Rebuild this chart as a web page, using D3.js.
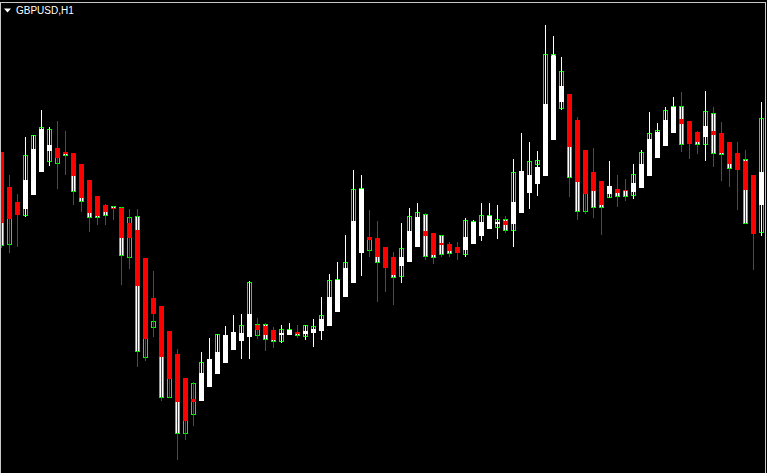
<!DOCTYPE html>
<html>
<head>
<meta charset="utf-8">
<script src="https://cdn.jsdelivr.net/npm/d3@7"></script>
<style>
  html, body { margin: 0; padding: 0; background: #000; }
  svg { display: block; }
</style>
</head>
<body>
<div id="chart"></div>
<script>
"use strict";

// GBPUSD H1 candles (regular OHLC)
var open = [1.3300, 1.3256, 1.3287, 1.3285, 1.3315, 1.3340, 1.3339, 1.3337, 1.3348, 1.3340,
    1.3330, 1.3310, 1.3295, 1.3293, 1.3294, 1.3293, 1.3243, 1.3284, 1.3143, 1.3173,
    1.3180, 1.3103, 1.3130, 1.3067, 1.3086, 1.3105, 1.3120, 1.3135, 1.3145, 1.3155,
    1.3160, 1.3170, 1.3165, 1.3176, 1.3168, 1.3159, 1.3166, 1.3167, 1.3164, 1.3168,
    1.3172, 1.3180, 1.3200, 1.3210, 1.3230, 1.3260, 1.3250, 1.3260, 1.3250, 1.3238,
    1.3224, 1.3250, 1.3260, 1.3286, 1.3260, 1.3265, 1.3254, 1.3252, 1.3246, 1.3260,
    1.3270, 1.3275, 1.3273, 1.3281, 1.3270, 1.3295, 1.3310, 1.3336, 1.3340, 1.3446,
    1.3392, 1.3400, 1.3370, 1.3289, 1.3325, 1.3315, 1.3303, 1.3310, 1.3310, 1.3305,
    1.3320, 1.3335, 1.3350, 1.3360, 1.3375, 1.3394, 1.3375, 1.3366, 1.3356, 1.3387,
    1.3365, 1.3355, 1.3345, 1.3341, 1.3320, 1.3268];

var high = [1.3348, 1.3325, 1.3306, 1.3363, 1.3365, 1.3390, 1.3373, 1.3379, 1.3369, 1.3347,
    1.3336, 1.3320, 1.3304, 1.3296, 1.3294, 1.3293, 1.3291, 1.3291, 1.3242, 1.3229,
    1.3194, 1.3169, 1.3151, 1.3122, 1.3118, 1.3148, 1.3162, 1.3166, 1.3174, 1.3185,
    1.3186, 1.3219, 1.3182, 1.3177, 1.3173, 1.3175, 1.3177, 1.3175, 1.3175, 1.3181,
    1.3203, 1.3226, 1.3238, 1.3265, 1.3330, 1.3325, 1.3290, 1.3279, 1.3253, 1.3248,
    1.3277, 1.3292, 1.3297, 1.3287, 1.3267, 1.3265, 1.3258, 1.3258, 1.3282, 1.3280,
    1.3297, 1.3297, 1.3295, 1.3284, 1.3341, 1.3367, 1.3358, 1.3349, 1.3475, 1.3464,
    1.3443, 1.3406, 1.3383, 1.3350, 1.3352, 1.3319, 1.3339, 1.3325, 1.3321, 1.3336,
    1.3350, 1.3388, 1.3377, 1.3393, 1.3403, 1.3408, 1.3379, 1.3369, 1.3409, 1.3393,
    1.3378, 1.3358, 1.3358, 1.3350, 1.3325, 1.3398];

var low = [1.3252, 1.3247, 1.3253, 1.3283, 1.3305, 1.3328, 1.3334, 1.3311, 1.3325, 1.3295,
    1.3288, 1.3268, 1.3275, 1.3275, 1.3280, 1.3215, 1.3231, 1.3133, 1.3139, 1.3163,
    1.3099, 1.3102, 1.3040, 1.3060, 1.3074, 1.3099, 1.3113, 1.3126, 1.3137, 1.3150,
    1.3141, 1.3141, 1.3161, 1.3149, 1.3152, 1.3157, 1.3165, 1.3162, 1.3160, 1.3153,
    1.3160, 1.3174, 1.3188, 1.3203, 1.3217, 1.3224, 1.3243, 1.3198, 1.3208, 1.3195,
    1.3217, 1.3238, 1.3253, 1.3240, 1.3236, 1.3243, 1.3243, 1.3240, 1.3243, 1.3256,
    1.3259, 1.3271, 1.3261, 1.3267, 1.3253, 1.3287, 1.3291, 1.3304, 1.3324, 1.3360,
    1.3390, 1.3303, 1.3280, 1.3286, 1.3282, 1.3265, 1.3302, 1.3293, 1.3299, 1.3301,
    1.3312, 1.3324, 1.3342, 1.3354, 1.3367, 1.3348, 1.3341, 1.3346, 1.3339, 1.3333,
    1.3319, 1.3313, 1.3290, 1.3276, 1.3230, 1.3264];

var close = [1.3255, 1.3295, 1.3296, 1.3345, 1.3365, 1.3373, 1.3371, 1.3350, 1.3345, 1.3309,
    1.3299, 1.3283, 1.3283, 1.3285, 1.3292, 1.3245, 1.3283, 1.3149, 1.3200, 1.3179,
    1.3103, 1.3140, 1.3067, 1.3100, 1.3117, 1.3138, 1.3135, 1.3166, 1.3164, 1.3166,
    1.3175, 1.3218, 1.3176, 1.3161, 1.3159, 1.3171, 1.3171, 1.3165, 1.3175, 1.3174,
    1.3185, 1.3220, 1.3221, 1.3238, 1.3311, 1.3312, 1.3262, 1.3238, 1.3238, 1.3223,
    1.3252, 1.3284, 1.3288, 1.3244, 1.3243, 1.3246, 1.3247, 1.3248, 1.3280, 1.3279,
    1.3285, 1.3285, 1.3281, 1.3270, 1.3328, 1.3325, 1.3339, 1.3340, 1.3446, 1.3410,
    1.3429, 1.3323, 1.3289, 1.3320, 1.3293, 1.3293, 1.3314, 1.3304, 1.3304, 1.3326,
    1.3348, 1.3367, 1.3370, 1.3390, 1.3394, 1.3356, 1.3360, 1.3356, 1.3389, 1.3347,
    1.3346, 1.3332, 1.3332, 1.3277, 1.3270, 1.3382];

// Heiken Ashi indicator values (open / close of each HA bar)
var haOpen = [1.3348, 1.3313, 1.3298, 1.3291, 1.3305, 1.3328, 1.3349, 1.3352, 1.3348, 1.3347,
    1.3336, 1.3320, 1.3304, 1.3295, 1.3292, 1.3292, 1.3277, 1.3270, 1.3242, 1.3202,
    1.3194, 1.3169, 1.3146, 1.3122, 1.3101, 1.3099, 1.3113, 1.3126, 1.3137, 1.3150,
    1.3159, 1.3163, 1.3175, 1.3174, 1.3170, 1.3165, 1.3165, 1.3168, 1.3166, 1.3167,
    1.3169, 1.3174, 1.3188, 1.3203, 1.3217, 1.3247, 1.3263, 1.3262, 1.3253, 1.3243,
    1.3234, 1.3238, 1.3253, 1.3269, 1.3267, 1.3257, 1.3256, 1.3253, 1.3250, 1.3256,
    1.3264, 1.3271, 1.3276, 1.3279, 1.3276, 1.3287, 1.3307, 1.3316, 1.3324, 1.3360,
    1.3398, 1.3406, 1.3380, 1.3350, 1.3328, 1.3319, 1.3306, 1.3311, 1.3310, 1.3308,
    1.3312, 1.3324, 1.3342, 1.3354, 1.3367, 1.3381, 1.3379, 1.3368, 1.3363, 1.3369,
    1.3367, 1.3358, 1.3347, 1.3339, 1.3325, 1.3295];

var haClose = [1.3277, 1.3281, 1.3285, 1.3320, 1.3351, 1.3371, 1.3355, 1.3342, 1.3346, 1.3324,
    1.3302, 1.3287, 1.3284, 1.3288, 1.3291, 1.3262, 1.3262, 1.3214, 1.3161, 1.3186,
    1.3143, 1.3121, 1.3098, 1.3079, 1.3098, 1.3127, 1.3141, 1.3148, 1.3165, 1.3168,
    1.3167, 1.3186, 1.3170, 1.3165, 1.3160, 1.3167, 1.3170, 1.3166, 1.3169, 1.3171,
    1.3181, 1.3203, 1.3220, 1.3232, 1.3279, 1.3311, 1.3260, 1.3243, 1.3232, 1.3225,
    1.3243, 1.3269, 1.3283, 1.3264, 1.3245, 1.3255, 1.3249, 1.3247, 1.3263, 1.3278,
    1.3278, 1.3284, 1.3278, 1.3275, 1.3298, 1.3329, 1.3325, 1.3333, 1.3396, 1.3444,
    1.3414, 1.3353, 1.3318, 1.3306, 1.3309, 1.3295, 1.3314, 1.3307, 1.3309, 1.3317,
    1.3336, 1.3361, 1.3368, 1.3380, 1.3393, 1.3376, 1.3356, 1.3358, 1.3374, 1.3365,
    1.3347, 1.3336, 1.3330, 1.3310, 1.3266, 1.3328];

var symbol = "GBPUSD,H1";

var w = 767;
var h = 473;

var bars = open.map(function (o, i) {
    return {
        i: i, o: o, h: high[i], l: low[i], c: close[i],
        ho: haOpen[i], hc: haClose[i]
    };
});

var svg = d3.select("#chart")
    .append("svg")
    .attr("width", w)
    .attr("height", h)
    .style("background", "#000");

// bar index -> centre x, 8px per bar
var x = d3.scaleLinear()
    .domain([0, bars.length - 1])
    .range([1.5, 1.5 + 8 * (bars.length - 1)]);

var y = d3.scaleLinear()
    .domain([1.3027, 1.3500])
    .range([h, 0]);

// snap prices to whole pixel rows
function py(v) {
    return Math.round(y(v));
}

var bodyW = 5;

// regular candles: lime outline, black bull / white bear
var candles = svg.append("g");

candles.selectAll("line")
    .data(bars)
    .enter()
    .append("line")
    .attr("x1", function (d) { return x(d.i); })
    .attr("x2", function (d) { return x(d.i); })
    .attr("y1", function (d) { return py(d.h); })
    .attr("y2", function (d) { return py(d.l); })
    .attr("stroke", "#00ff00")
    .attr("stroke-width", 1);

candles.selectAll("rect")
    .data(bars)
    .enter()
    .append("rect")
    .attr("x", function (d) { return x(d.i) - 2; })
    .attr("y", function (d) { return py(Math.max(d.o, d.c)) + 0.5; })
    .attr("width", bodyW - 1)
    .attr("height", function (d) { return Math.max(1, Math.abs(py(d.o) - py(d.c))); })
    .attr("fill", function (d) { return d.c >= d.o ? "#000" : "#fff"; })
    .attr("stroke", "#00ff00")
    .attr("stroke-width", 1)
    .attr("shape-rendering", "crispEdges");

// Heiken Ashi overlay
var ha = svg.append("g");

function haColor(d) {
    return d.hc >= d.ho ? "#fff" : "#ff0000";
}

ha.selectAll("line")
    .data(bars)
    .enter()
    .append("line")
    .attr("x1", function (d) { return x(d.i); })
    .attr("x2", function (d) { return x(d.i); })
    .attr("y1", function (d) { return py(Math.max(d.h, d.ho, d.hc)); })
    .attr("y2", function (d) { return py(Math.min(d.l, d.ho, d.hc)); })
    .attr("stroke", haColor)
    .attr("stroke-width", 1);

ha.selectAll("rect")
    .data(bars)
    .enter()
    .append("rect")
    .attr("x", function (d) { return x(d.i) - bodyW / 2; })
    .attr("y", function (d) { return py(Math.max(d.ho, d.hc)); })
    .attr("width", bodyW)
    .attr("height", function (d) { return Math.max(1, Math.abs(py(d.ho) - py(d.hc))); })
    .attr("fill", haColor)
    .attr("shape-rendering", "crispEdges");

// frame
svg.append("rect")
    .attr("x", 0.5)
    .attr("y", 2.5)
    .attr("width", w - 2)
    .attr("height", h - 2)
    .attr("fill", "none")
    .attr("stroke", "#c8c8c8")
    .attr("stroke-width", 1);

// symbol label
svg.append("path")
    .attr("d", "M4,8.5 L11,8.5 L7.5,12.5 Z")
    .attr("fill", "#fff");

svg.append("text")
    .attr("x", 16)
    .attr("y", 14)
    .attr("fill", "#fff")
    .style("font-family", "Liberation Sans, Arial, sans-serif")
    .style("font-size", "10px")
    .text(symbol);
</script>
</body>
</html>
